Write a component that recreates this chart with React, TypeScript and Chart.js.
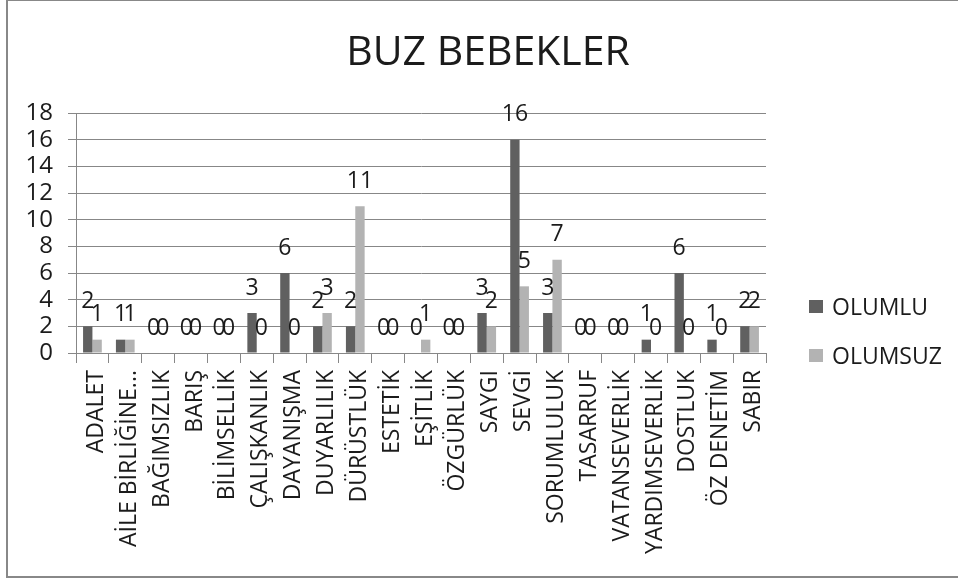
import React, { useEffect, useRef } from 'react';
import { Chart, registerables } from 'chart.js';

Chart.register(...registerables);

const chartTitle = 'BUZ BEBEKLER';
const categories = [
  'ADALET', 'AİLE BİRLİĞİNE...', 'BAĞIMSIZLIK', 'BARIŞ', 'BİLİMSELLİK', 'ÇALIŞKANLIK',
  'DAYANIŞMA', 'DUYARLILIK', 'DÜRÜSTLÜK', 'ESTETİK', 'EŞİTLİK', 'ÖZGÜRLÜK', 'SAYGI',
  'SEVGİ', 'SORUMLULUK', 'TASARRUF', 'VATANSEVERLİK', 'YARDIMSEVERLİK', 'DOSTLUK',
  'ÖZ DENETİM', 'SABIR',
];
const olumlu = [2, 1, 0, 0, 0, 3, 6, 2, 2, 0, 0, 0, 3, 16, 3, 0, 0, 1, 6, 1, 2];
const olumsuz = [1, 1, 0, 0, 0, 0, 0, 3, 11, 0, 1, 0, 2, 5, 7, 0, 0, 0, 0, 0, 2];
const seriesNames = ['OLUMLU', 'OLUMSUZ'];
const seriesColors = ['#606060', '#b3b3b3'];
const yMin = 0;
const yMax = 18;
const yStep = 2;

const FONT = '"Open Sans", "DejaVu Sans", sans-serif';
const TEXT = '#1b1b1b';
const GRID = '#878787';

const titlePlugin = {
  id: 'centerTitle',
  afterDraw(chart: any) {
    const ctx = chart.ctx;
    ctx.save();
    ctx.font = `41px ${FONT}`;
    ctx.fillStyle = TEXT;
    ctx.textAlign = 'center';
    ctx.textBaseline = 'middle';
    ctx.fillText(chartTitle, chart.width / 2 + 5, 52);
    ctx.restore();
  },
};

const dataLabels = {
  id: 'dataLabels',
  afterDatasetsDraw(chart: any) {
    const ctx = chart.ctx;
    ctx.save();
    ctx.font = `23px ${FONT}`;
    ctx.fillStyle = TEXT;
    ctx.textAlign = 'center';
    ctx.textBaseline = 'middle';
    chart.data.datasets.forEach((ds: any, i: number) => {
      const meta = chart.getDatasetMeta(i);
      meta.data.forEach((bar: any, j: number) => {
        ctx.fillText(String(ds.data[j]), bar.x, bar.y - 25);
      });
    });
    ctx.restore();
  },
};

const sideLegend = {
  id: 'sideLegend',
  afterDraw(chart: any) {
    const { ctx, chartArea } = chart;
    const rows = [chartArea.bottom - 46, chartArea.bottom + 3];
    ctx.save();
    chart.data.datasets.forEach((ds: any, i: number) => {
      const y = rows[i];
      ctx.fillStyle = ds.backgroundColor;
      ctx.fillRect(chartArea.right + 43, y - 7, 14, 13);
      ctx.fillStyle = TEXT;
      ctx.font = `23px ${FONT}`;
      ctx.textAlign = 'left';
      ctx.textBaseline = 'middle';
      ctx.fillText(ds.label, chartArea.right + 66, y + 1);
    });
    ctx.restore();
  },
};

export default function App() {
  const ref = useRef<HTMLCanvasElement | null>(null);

  useEffect(() => {
    if (!ref.current) return;
    const chart = new Chart(ref.current, {
      type: 'bar',
      data: {
        labels: categories,
        datasets: [
          { label: seriesNames[0], data: olumlu, backgroundColor: seriesColors[0] },
          { label: seriesNames[1], data: olumsuz, backgroundColor: seriesColors[1] },
        ],
      },
      options: {
        responsive: false,
        animation: false,
        devicePixelRatio: 1,
        layout: { padding: { left: 0, right: 192, top: 112, bottom: 0 } },
        datasets: { bar: { barPercentage: 1, categoryPercentage: 0.57 } },
        plugins: {
          legend: { display: false },
          tooltip: { enabled: false },
          title: { display: false },
        },
        scales: {
          x: {
            offset: true,
            grid: { drawOnChartArea: false, drawTicks: true, tickLength: 10, color: GRID, offset: true },
            border: { display: true, color: GRID },
            ticks: {
              autoSkip: false,
              maxRotation: 90,
              minRotation: 90,
              padding: 7,
              labelOffset: 4,
              color: TEXT,
              font: { family: FONT, size: 23 },
            },
            afterFit: (scale: any) => { scale.height = 223; },
          },
          y: {
            min: yMin,
            max: yMax,
            ticks: { stepSize: yStep, autoSkip: false, padding: 15, color: TEXT, font: { family: FONT, size: 24 } },
            grid: { color: GRID, tickLength: 8, drawTicks: true },
            border: { display: true, color: GRID },
            afterFit: (scale: any) => { scale.width = 68; },
          },
        },
      },
      plugins: [dataLabels, sideLegend, titlePlugin],
    } as any);
    return () => chart.destroy();
  }, []);

  return (
    <div
      style={{
        position: 'absolute',
        left: 6,
        top: 0,
        width: 950,
        height: 575,
        borderLeft: '2px solid #888888',
        borderTop: '1px solid #888888',
        borderBottom: '2px solid #888888',
        background: '#ffffff',
      }}
    >
      <canvas ref={ref} width={950} height={575} style={{ display: 'block', width: 950, height: 575 }} />
    </div>
  );
}
